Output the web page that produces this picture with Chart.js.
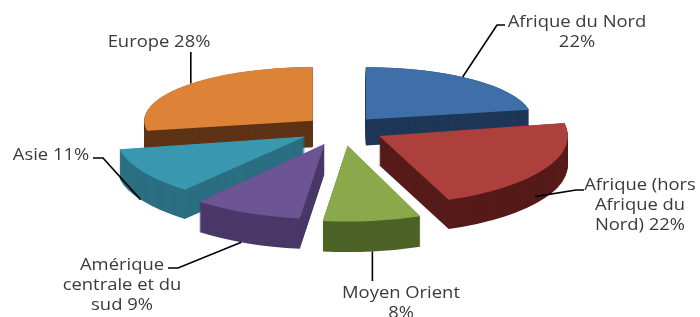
<!DOCTYPE html>
<html>
<head>
<meta charset="utf-8">
<script src="https://cdn.jsdelivr.net/npm/chart.js@4.4.1/dist/chart.umd.min.js"></script>
<style>
    html, body { margin: 0; padding: 0; background: #ffffff; }
    #wrap { width: 700px; height: 317px; }
</style>
</head>
<body>
<div id="wrap"><canvas id="pieChart" width="700" height="317"></canvas></div>
<script>
// data, clockwise from 12 o'clock
const categories = ['Afrique du Nord', 'Afrique (hors Afrique du Nord)', 'Moyen Orient', 'Amérique centrale et du sud', 'Asie', 'Europe'];
const shares = [22, 22, 8, 9, 11, 28];
const topColors = ['#3f6fa8', '#ad403c', '#8aa94b', '#6d5494', '#3a97b0', '#dd8338'];
const sideColors = ['#1f3757', '#561b19', '#4d6226', '#4a3868', '#2b6f82', '#5e3315'];

// layout of the fake 3d pie (screen pixels)
const PIE_X = 342, PIE_Y = 128.5, PIE_R = 180, EXPLODE = 40.5;
const DEPTH = 28, DEPTH_GROW = 2.5;

// where each label sits, where its line is broken, and where its leader meets the slice
const labelLayout = [
    { x: 577, y: 22, breaks: [3], lead: [[505, 25], [497, 25]], t: 0.45, d: 0 },
    { x: 640, y: 185, breaks: [2, 4], lead: [[584, 190], [576, 190]], t: 0.57, d: 0.75 },
    { x: 401, y: 293, breaks: [2], lead: [[null, 281]], t: 0.5, d: 1 },
    { x: 122, y: 265, breaks: [1, 4], lead: [[168, 268], [178, 268]], t: 0.55, d: 1 },
    { x: 51, y: 155, breaks: [], lead: [[93, 158], [103, 158]], t: 0.53, d: 1 },
    { x: 159, y: 42, breaks: [], lead: [[null, 52]], t: 0.54, d: 0 }
];

function forward(arc) {
    return Math.sin((arc.startAngle + arc.endAngle) / 2);
}

function sliceParams(arc) {
    const mid = (arc.startAngle + arc.endAngle) / 2;
    const c = Math.sin(mid);
    return {
        mid: mid,
        s: 1 + 0.1 * c,
        k: 0.345 + 0.04 * c,
        g: PIE_R / arc.outerRadius,
        depth: DEPTH + DEPTH_GROW * c
    };
}

function sliceTransform(ctx, arc, dy) {
    const p = sliceParams(arc);
    ctx.translate(PIE_X, PIE_Y + dy);
    ctx.scale(p.g * p.s, p.g * p.s * p.k);
    ctx.translate(Math.cos(p.mid) * EXPLODE / p.g, Math.sin(p.mid) * EXPLODE / p.g);
    ctx.translate(-arc.x, -arc.y);
}

function rimPoint(arc, t, depthFrac) {
    const p = sliceParams(arc);
    const a = arc.startAngle + t * (arc.endAngle - arc.startAngle);
    const x = PIE_X + p.s * (Math.cos(p.mid) * EXPLODE + Math.cos(a) * PIE_R);
    const y = PIE_Y + depthFrac * p.depth + p.s * p.k * (Math.sin(p.mid) * EXPLODE + Math.sin(a) * PIE_R);
    return [x, y];
}

function wrapLabel(i) {
    const words = (categories[i] + ' ' + shares[i] + '%').split(' ');
    const cuts = [0].concat(labelLayout[i].breaks, [words.length]);
    const lines = [];
    for (let j = 0; j < cuts.length - 1; j++) {
        lines.push(words.slice(cuts[j], cuts[j + 1]).join(' '));
    }
    return lines;
}

const pie3d = {
    id: 'pie3d',
    beforeDatasetsDraw(chart) {
        const ctx = chart.ctx;
        const arcs = chart.getDatasetMeta(0).data;
        const order = arcs.map((a, i) => i).sort((a, b) => forward(arcs[a]) - forward(arcs[b]));
        for (const i of order) {
            const arc = arcs[i];
            const depth = sliceParams(arc).depth;
            const saved = arc.options;
            arc.options = Object.assign({}, saved, { backgroundColor: sideColors[i], borderColor: sideColors[i] });
            for (let dy = depth; dy > 0; dy -= 1) {
                ctx.save();
                sliceTransform(ctx, arc, dy);
                arc.draw(ctx);
                ctx.restore();
            }
            arc.options = saved;
            ctx.save();
            sliceTransform(ctx, arc, 0);
            arc.draw(ctx);
            ctx.restore();
        }
        return false;
    },
    afterDraw(chart) {
        const ctx = chart.ctx;
        const arcs = chart.getDatasetMeta(0).data;
        ctx.save();
        // leader lines
        ctx.strokeStyle = '#000000';
        ctx.lineWidth = 1.6;
        arcs.forEach((arc, i) => {
            const lay = labelLayout[i];
            const end = rimPoint(arc, lay.t, lay.d);
            ctx.beginPath();
            lay.lead.forEach((pt, j) => {
                const x = pt[0] === null ? end[0] : pt[0];
                if (j === 0) ctx.moveTo(x, pt[1]); else ctx.lineTo(x, pt[1]);
            });
            ctx.lineTo(end[0], end[1]);
            ctx.stroke();
        });
        // label text
        ctx.fillStyle = '#3a3a3a';
        ctx.font = '16px "Open Sans"';
        ctx.textAlign = 'center';
        ctx.textBaseline = 'middle';
        const hs = 1.15;
        arcs.forEach((arc, i) => {
            const lay = labelLayout[i];
            wrapLabel(i).forEach((line, j) => {
                ctx.save();
                ctx.translate(lay.x, lay.y + j * 20);
                ctx.scale(hs, 1);
                ctx.fillText(line, 0, 0);
                ctx.restore();
            });
        });
        ctx.restore();
    }
};

window.onload = function() {
    const ctx = document.getElementById('pieChart').getContext('2d');
    new Chart(ctx, {
        type: 'pie',
        data: {
            labels: categories,
            datasets: [{
                data: shares,
                backgroundColor: topColors,
                borderWidth: 0
            }]
        },
        options: {
            responsive: false,
            animation: false,
            events: [],
            layout: { padding: 0 },
            plugins: {
                legend: { display: false },
                tooltip: { enabled: false }
            }
        },
        plugins: [pie3d]
    });
};
</script>
</body>
</html>
